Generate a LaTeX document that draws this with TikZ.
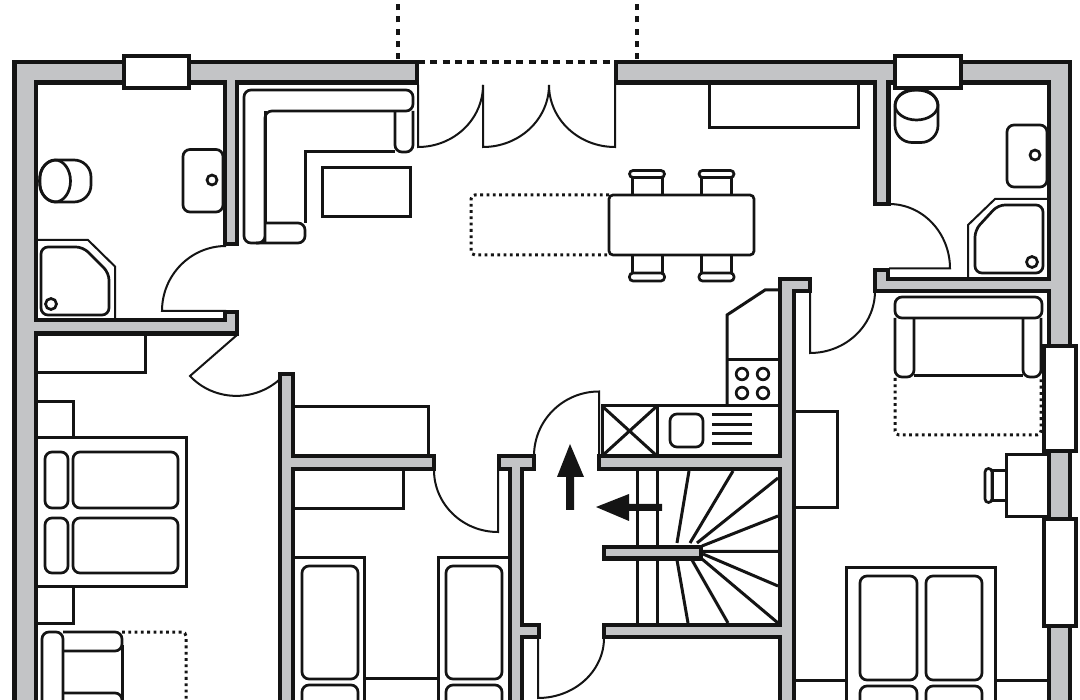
\documentclass[tikz,border=0pt]{standalone}
\usetikzlibrary{calc}
\definecolor{wallgrey}{HTML}{C3C4C6}
\definecolor{ink}{HTML}{141414}
\tikzset{
  wall/.style={draw=ink,fill=wallgrey,line width=4.5pt,miter limit=10},
  windowbox/.style={draw=ink,fill=white,line width=4pt},
  furn/.style={draw=ink,line width=3pt,line join=miter},
  soft/.style={furn,line width=2.7pt,rounded corners=7pt},
  doorleaf/.style={draw=ink,line width=2pt,line join=miter},
  dotline/.style={draw=ink,line width=3pt,dash pattern=on 2.8pt off 3.5pt},
  terrace/.style={draw=ink,line width=4.5pt,dash pattern=on 7pt off 5.3pt},
  solidarrow/.style={fill=ink,draw=none}
}
\newcommand{\doorswing}[3]{%
  \draw[doorleaf] (#1) -- (#2) .. controls ($(#2)+0.5523*(#3)-0.5523*(#1)$) and ($(#3)+0.5523*(#2)-0.5523*(#1)$) .. (#3);}
\newcommand{\chairtop}[1]{%
  \draw[furn] (#1-15,195) -- (#1-15,177) (#1+15,195) -- (#1+15,177);
  \draw[soft,fill=white,rounded corners=3.5pt] (#1-17.5,170.5) rectangle (#1+17.5,177.5);}
\newcommand{\chairbot}[1]{%
  \draw[furn] (#1-15,255) -- (#1-15,273) (#1+15,255) -- (#1+15,273);
  \draw[soft,fill=white,rounded corners=3.5pt] (#1-17.5,273) rectangle (#1+17.5,281);}
\begin{document}
\begin{tikzpicture}[x=1pt,y=-1pt]
\useasboundingbox (0,0) rectangle (1080,700);
\clip (0,0) rectangle (1080,700);
\fill[white] (0,0) rectangle (1080,700);

% terrace outline
\draw[terrace] (418,62) -- (616,62);
\draw[terrace,dash pattern=on 6pt off 6.2pt] (398,59) -- (398,0);
\draw[terrace,dash pattern=on 6pt off 6.2pt] (637,59) -- (637,0);

% doors
\doorswing{418,85}{418,147}{483,85}
\doorswing{483,85}{483,147}{549,85}
\doorswing{615,85}{615,147}{549,85}
\doorswing{226,311}{162,311}{226,246}
\doorswing{237,335}{190,376}{279,380}
\doorswing{498,470}{498,532}{434,470}
\doorswing{599,456}{599,391.5}{534,456}
\doorswing{538,638}{538,698}{604,638}
\doorswing{889,268.5}{950,268.5}{889,204}
\doorswing{810,291}{810,353}{875,291}

% left bath
\draw[soft,rounded corners=17pt] (40,160) rectangle (91,202);
\draw[soft] (55,181) ellipse [x radius=15.5pt,y radius=21pt];
\draw[soft] (183,149.5) rectangle (223,212);
\draw[soft] (212,180) circle [radius=5pt];
\draw[furn,line width=2pt] (36,240) -- (88,240) -- (115,266.5) -- (115,319);
\draw[soft] (41,247) -- (83,247) -- (109,273) -- (109,315) -- (41,315) -- cycle;
\draw[soft] (51,304) circle [radius=5.5pt];

% corner sofa and coffee table
\draw[soft] (265,235) -- (265,243) -- (244,243) -- (244,90) -- (413,90) -- (413,111) -- (265,111) -- cycle;
\draw[soft] (256,243) -- (305,243) -- (305,223) -- (265,223);
\draw[furn] (265,223) -- (265,111);
\draw[furn] (305,223) -- (305,152) -- (395,152);
\draw[soft] (395,111) -- (395,152) -- (413,152) -- (413,111);
\draw[furn] (322,168) rectangle (410,217);

% dining table
\draw[dotline,rounded corners=4pt] (609,195) -- (471,195) -- (471,255) -- (609,255);
\chairtop{647}\chairtop{716.5}
\chairbot{647}\chairbot{716.5}
\draw[soft,fill=white,rounded corners=4pt] (609,195) rectangle (754,255);

% sideboard
\draw[furn] (709,84) -- (709,127.5) -- (858,127.5) -- (858,84);

% right bath
\draw[soft,rounded corners=17pt] (895,90) rectangle (938,142.5);
\draw[soft] (916.5,105) ellipse [x radius=21.5pt,y radius=15pt];
\draw[soft] (1007,125) rectangle (1047,187);
\draw[soft] (1035,155) circle [radius=5pt];
\draw[furn,line width=2pt] (968,278) -- (968,225) -- (995,199) -- (1048,199);
\draw[soft] (975,230) -- (998,205) -- (1043,205) -- (1043,273) -- (975,273) -- cycle;
\draw[soft] (1032,262) circle [radius=5.5pt];

% right room sofa
\draw[dotline,rounded corners=4pt] (895,378) -- (895,435) -- (1041,435) -- (1041,378);
\draw[soft] (895,318) -- (895,377) -- (914,377) -- (914,318);
\draw[soft] (1023,318) -- (1023,377) -- (1041,377) -- (1041,318);
\draw[furn] (914,376) -- (1023,376);
\draw[soft,fill=white] (895,297) rectangle (1042,318);

% kitchen
\draw[furn] (780,290) -- (765,290) -- (727,315) -- (727,406);
\draw[furn] (727,360) -- (780,360);
\draw[furn] (602,406) -- (780,406);
\foreach \bx/\by in {742/374,763/374,742/393,763/393}
  \draw[soft] (\bx,\by) circle [radius=5.8pt];
\draw[furn] (602,406) rectangle (657,456);
\draw[furn] (602,406) -- (657,456) (657,406) -- (602,456);
\draw[soft] (670,414) rectangle (703,447);
\foreach \ly in {415,425,434,444}
  \draw[furn] (712,\ly) -- (752,\ly);

% stairs
\draw[furn] (637,469) -- (637,625) (657,469) -- (657,625);
\draw[furn]
  (677,543) -- (689,471)
  (690,543) -- (733,471)
  (697,543) -- (778,478)
  (702,546) -- (778,516)
  (703,551.5) -- (778,551.5)
  (703,554) -- (778,586)
  (702,559) -- (778,623)
  (692,560) -- (728,623)
  (677,560) -- (688,623);

% left bedroom
\draw[furn] (36,373) -- (145,373) -- (145,335);
\draw[furn] (36,402) -- (73,402) -- (73,438);
\draw[furn] (36,623) -- (73,623) -- (73,587);
\draw[furn] (36,438) -- (186,438) -- (186,587) -- (36,587);
\draw[soft] (45,452) rectangle (68,508);
\draw[soft] (45,518) rectangle (68,573);
\draw[soft] (73,452) rectangle (178,508);
\draw[soft] (73,518) rectangle (178,573);
\draw[dotline,rounded corners=4pt] (122,632) -- (186,632) -- (186,705);
\draw[soft] (42,710) -- (42,632) -- (63,632) -- (63,710);
\draw[soft] (63,632) -- (122,632) -- (122,651) -- (63,651);
\draw[furn] (122,645) -- (122,710);
\draw[soft] (63,693) -- (122,693) -- (122,715);

% middle bedroom
\draw[furn] (293,407) -- (428,407) -- (428,456);
\draw[furn] (293,509) -- (403,509) -- (403,469);
\draw[furn] (293,558) -- (364.5,558) -- (364.5,710);
\draw[furn] (510,558) -- (438,558) -- (438,710);
\draw[furn] (364.5,678.5) -- (438,678.5);
\draw[soft] (302,566) rectangle (358,679);
\draw[soft] (302,685) rectangle (358,730);
\draw[soft] (446,566) rectangle (502,679);
\draw[soft] (446,685) rectangle (502,730);

% right bedroom
\draw[furn] (794,412) -- (837,412) -- (837,508) -- (794,508);
\draw[furn] (846,710) -- (846,568) -- (995,568) -- (995,710);
\draw[soft] (860,576) rectangle (917,680);
\draw[soft] (926,576) rectangle (982,680);
\draw[soft] (860,686) rectangle (917,730);
\draw[soft] (926,686) rectangle (982,730);
\draw[furn] (794,680) -- (846,680) (995,680) -- (1048,680);
\draw[furn] (1048,454.5) -- (1006,454.5) -- (1006,517) -- (1048,517);
\draw[furn] (1006,470.5) -- (992,470.5) -- (992,501) -- (1006,501);
\draw[soft,fill=white,rounded corners=3.5pt] (985,468.5) rectangle (992,502.5);

% arrows
\fill[solidarrow] (570,444) -- (584,477) -- (574,477) -- (574,510) -- (566,510) -- (566,477) -- (557,477) -- cycle;
\fill[solidarrow] (596,507) -- (629,494) -- (629,504) -- (662,504) -- (662,511) -- (629,511) -- (629,521) -- cycle;

% walls
\draw[wall] (417,62) -- (14.5,62) -- (14.5,715) -- (36,715) -- (36,333.5) -- (237,333.5) -- (237,312) -- (225,312) -- (225,320) -- (36,320) -- (36,82.5) -- (225,82.5) -- (225,244) -- (237,244) -- (237,82.5) -- (417,82.5) -- cycle;
\draw[wall] (616,62) -- (1070,62) -- (1070,715) -- (1049,715) -- (1049,291) -- (875,291) -- (875,270) -- (888,270) -- (888,279) -- (1049,279) -- (1049,82.5) -- (888.5,82.5) -- (888.5,204) -- (875,204) -- (875,82.5) -- (616,82.5) -- cycle;
\draw[wall] (780,279) -- (810,279) -- (810,291) -- (794,291) -- (794,715) -- (780,715) -- (780,637) -- (604,637) -- (604,625) -- (780,625) -- (780,469) -- (599,469) -- (599,456) -- (780,456) -- cycle;
\draw[wall] (499,456) -- (534,456) -- (534,469) -- (522,469) -- (522,625) -- (539,625) -- (539,637) -- (522,637) -- (522,715) -- (510,715) -- (510,469) -- (499,469) -- cycle;
\draw[wall] (280,374) -- (293,374) -- (293,456) -- (434,456) -- (434,469) -- (293,469) -- (293,715) -- (280,715) -- cycle;
\draw[wall] (604,547) rectangle (701,558.5);

% windows
\draw[windowbox] (123.5,56.5) rectangle (188.5,88);
\draw[windowbox] (894.5,56.5) rectangle (960.5,88);
\draw[windowbox] (1043.5,346) rectangle (1075.5,451);
\draw[windowbox] (1043.5,519) rectangle (1075.5,626);
\end{tikzpicture}
\end{document}
